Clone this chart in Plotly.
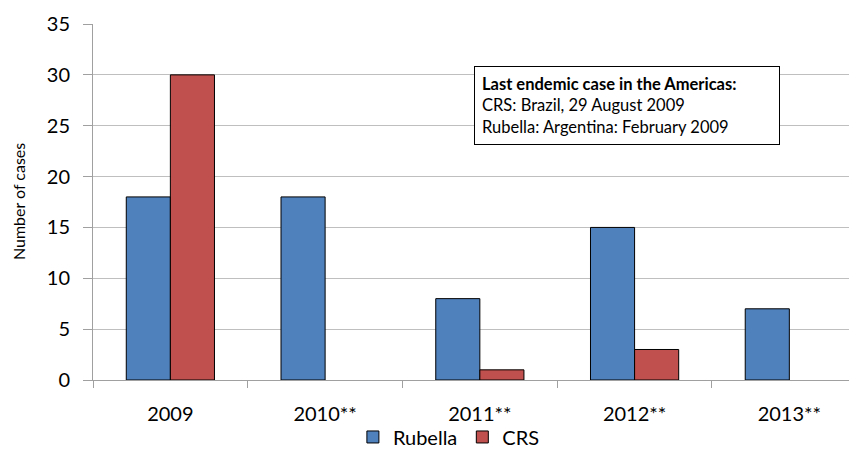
import plotly.graph_objects as go

categories = ["2009", "2010**", "2011**", "2012**", "2013**"]
rubella = [18, 18, 8, 15, 7]
crs = [30, 0, 1, 3, 0]
y_ticks = [0, 5, 10, 15, 20, 25, 30, 35]

FONT = "Lato"


def outline(values):
    return [1 if v else 0 for v in values]


fig = go.Figure()
fig.add_trace(go.Bar(x=categories, y=rubella, name="Rubella",
                     marker=dict(color="#4F81BD", line=dict(color="#000000", width=outline(rubella)))))
fig.add_trace(go.Bar(x=categories, y=crs, name="CRS",
                     marker=dict(color="#C0504D", line=dict(color="#000000", width=outline(crs)))))

fig.update_layout(
    width=857, height=458,
    margin=dict(l=85, r=0, t=16, b=86, autoexpand=False),
    paper_bgcolor="white", plot_bgcolor="white",
    barmode="group", bargap=0.43, bargroupgap=0,
    font=dict(family=FONT, color="#000000"),
    showlegend=True,
    legend=dict(orientation="h", x=0.461, xanchor="center", y=-0.16, yanchor="middle",
                font=dict(size=20, family=FONT), itemwidth=30, traceorder="normal",
                tracegroupgap=0, bgcolor="rgba(0,0,0,0)"),
    xaxis=dict(
        range=[-0.5, 4.489], tickson="boundaries", ticks="outside", ticklen=7,
        tickcolor="#A0A0A0", showline=True, linecolor="#A0A0A0", linewidth=1,
        showgrid=False, tickfont=dict(size=20, family=FONT), fixedrange=True,
        automargin=False, ticklabelstandoff=16,
    ),
    yaxis=dict(
        range=[0, 35], tickvals=y_ticks, ticks="outside", ticklen=9,
        tickcolor="#A0A0A0", showline=True, linecolor="#A0A0A0", linewidth=1,
        showgrid=True, gridcolor="#BFBFBF", gridwidth=1,
        tickfont=dict(size=20, family=FONT), zeroline=False,
        automargin=False, ticklabelstandoff=9,
    ),
)

fig.add_annotation(
    x=-0.097, y=0.5, xref="paper", yref="paper", xanchor="center", yanchor="middle",
    text="Number of cases", textangle=-90, showarrow=False,
    font=dict(size=16, family=FONT, color="#000000"),
)

fig.add_annotation(
    x=1.962, y=30.9, xref="x", yref="y", xanchor="left", yanchor="top",
    text="<b>Last endemic case in the Americas:</b><br>CRS: Brazil, 29 August 2009<br>Rubella: Argentina: February 2009",
    showarrow=False, align="left", width=290,
    font=dict(size=16.5, family=FONT, color="#000000"),
    bgcolor="white", bordercolor="#000000", borderwidth=1, borderpad=7,
)

fig.write_html("out.html")
